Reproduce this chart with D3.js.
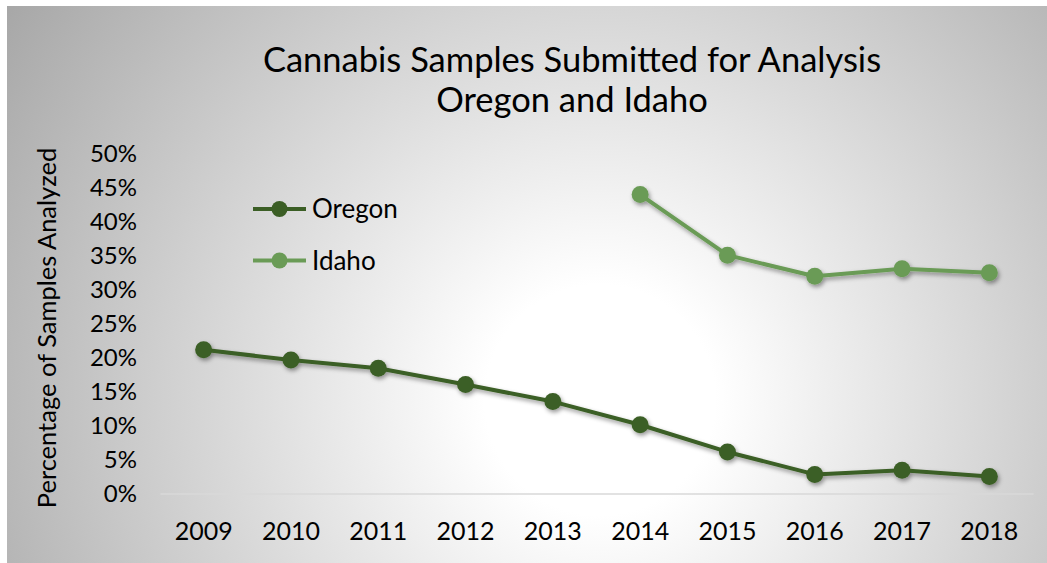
<!DOCTYPE html>
<html>
<head>
<meta charset="utf-8">
<script src="https://cdn.jsdelivr.net/npm/d3@7"></script>
<style>
  html, body { margin: 0; padding: 0; background: #ffffff; }
  svg { display: block; font-family: Lato, "Open Sans", sans-serif; }
</style>
</head>
<body>
<svg id="chart" width="1047" height="563"></svg>
<script>
// Survey years on the category axis
const years = ["2009", "2010", "2011", "2012", "2013", "2014", "2015", "2016", "2017", "2018"];
// Share of submitted samples that were analyzed (fraction)
const oregonValues = [0.211, 0.196, 0.184, 0.160, 0.135, 0.101, 0.061, 0.028, 0.034, 0.025];
const idahoValues = [null, null, null, null, null, 0.439, 0.350, 0.319, 0.330, 0.324];
const yTickValues = [0, 0.05, 0.10, 0.15, 0.20, 0.25, 0.30, 0.35, 0.40, 0.45, 0.50];
const seriesNames = ["Oregon", "Idaho"];
const seriesColors = ["#3b5e25", "#6a9b56"];
const titleLines = ["Cannabis Samples Submitted for Analysis", "Oregon and Idaho"];
const yAxisTitle = "Percentage of Samples Analyzed";

const svg = d3.select("#chart");
const defs = svg.append("defs");

// Soft radial background fading from white to grey at the edges
const grad = defs.append("radialGradient")
  .attr("id", "bg").attr("gradientUnits", "userSpaceOnUse")
  .attr("cx", 600).attr("cy", 400).attr("r", 720);
grad.append("stop").attr("offset", "0%").attr("stop-color", "#ffffff");
grad.append("stop").attr("offset", "16%").attr("stop-color", "#ffffff");
grad.append("stop").attr("offset", "100%").attr("stop-color", "#a6a6a6");

const shadow = defs.append("filter").attr("id", "shadow")
  .attr("x", "-10%").attr("y", "-10%").attr("width", "120%").attr("height", "130%");
shadow.append("feDropShadow")
  .attr("dx", 1.5).attr("dy", 2.5).attr("stdDeviation", 2)
  .attr("flood-color", "#000").attr("flood-opacity", 0.4);

svg.append("rect").attr("x", 7).attr("y", 6).attr("width", 1040).attr("height", 557)
  .attr("fill", "url(#bg)");

// Scales
const x = d3.scaleBand().domain(years).range([160, 1033]);
const y = d3.scaleLinear().domain([0, 0.5]).range([493.5, 153]);
const cx = d => x(d) + x.bandwidth() / 2;

// Title
svg.append("g").selectAll("text").data(titleLines).join("text")
  .attr("x", 572).attr("y", (d, i) => 72 + i * 40)
  .attr("text-anchor", "middle").attr("font-size", 34.5).attr("fill", "#000")
  .text(d => d);

// Y axis
const yAxis = svg.append("g").attr("transform", "translate(137,0)")
  .call(d3.axisLeft(y).tickValues(yTickValues).tickFormat(d3.format(".0%")).tickSize(0).tickPadding(0));
yAxis.select(".domain").remove();
yAxis.selectAll("text").attr("font-size", 24).attr("font-family", "Lato, sans-serif").attr("fill", "#000").attr("dy", "0.35em");

// X axis
const xAxis = svg.append("g").attr("transform", "translate(0,493.5)")
  .call(d3.axisBottom(x).tickSize(0).tickSizeOuter(0).tickPadding(0));
xAxis.select(".domain").attr("stroke", "#d9d9d9").attr("stroke-width", 1.5);
xAxis.selectAll("text").attr("font-size", 25).attr("font-family", "Lato, sans-serif").attr("fill", "#000")
  .attr("y", 46.5).attr("dy", 0);

// Y axis title
svg.append("text")
  .attr("transform", "translate(56,328) rotate(-90)")
  .attr("text-anchor", "middle").attr("font-size", 25.5).attr("fill", "#000")
  .text(yAxisTitle);

// Series
const series = [oregonValues, idahoValues];
const line = d3.line().defined(d => d.v != null).x(d => cx(d.year)).y(d => y(d.v));
series.forEach((vals, si) => {
  const pts = years.map((year, i) => ({ year, v: vals[i] }));
  const g = svg.append("g").attr("filter", "url(#shadow)");
  g.append("path").datum(pts).attr("d", line)
    .attr("fill", "none").attr("stroke", seriesColors[si]).attr("stroke-width", 4)
    .attr("stroke-linejoin", "round");
  g.selectAll("circle").data(pts.filter(d => d.v != null)).join("circle")
    .attr("cx", d => cx(d.year)).attr("cy", d => y(d.v)).attr("r", 8.5)
    .attr("fill", seriesColors[si]);
});

// Legend
const legend = svg.append("g").selectAll("g").data(seriesNames).join("g")
  .attr("transform", (d, i) => `translate(253,${209 + i * 51.5})`);
legend.append("line").attr("x1", 0).attr("x2", 53).attr("y1", 0).attr("y2", 0)
  .attr("stroke", (d, i) => seriesColors[i]).attr("stroke-width", 4);
legend.append("circle").attr("cx", 26.5).attr("cy", 0).attr("r", 8)
  .attr("fill", (d, i) => seriesColors[i]);
legend.append("text").attr("x", 59).attr("y", 0).attr("dy", "0.35em")
  .attr("font-size", 26).attr("fill", "#000").text(d => d);
</script>
</body>
</html>
